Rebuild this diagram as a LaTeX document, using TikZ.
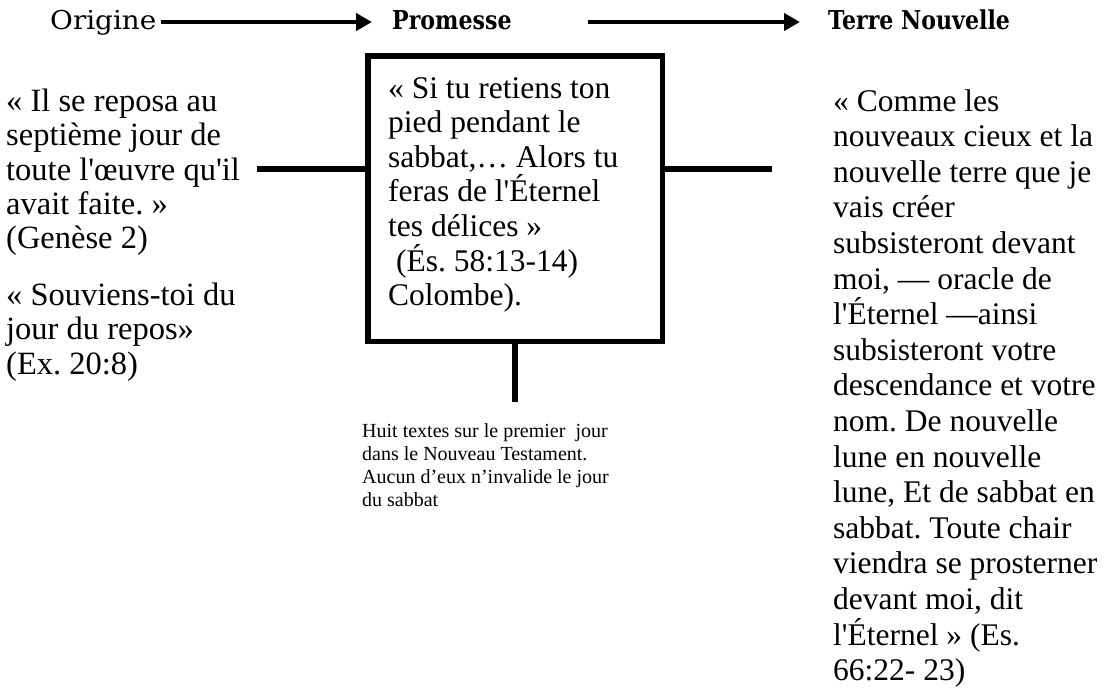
\documentclass[tikz,border=0pt]{standalone}
\usepackage{fontspec}
\setmainfont{Liberation Serif}[Ligatures=TeXOff]
\newfontfamily\hdrfont{DejaVu Serif}[FakeStretch=1.07]
\newfontfamily\hdrbold{DejaVu Serif Bold}[FakeStretch=0.85]
\usepackage{tikz}
\usetikzlibrary{arrows.meta,positioning}
\frenchspacing

\begin{document}
\begin{tikzpicture}[
  x=1pt, y=-1pt,
  font=\fontsize{31.5}{34.6}\selectfont,
  hdr/.style={inner sep=0pt, anchor=base west, text height=19pt, text depth=5pt, font=\hdrfont\fontsize{26}{28}\selectfont},
  txt/.style={inner sep=0pt, anchor=north west, align=left},
  frame/.style={draw, line width=5.5pt, minimum width=294.5pt, minimum height=285.5pt},
  stub/.style={line width=6.5pt},
  arr/.style={-{Triangle[length=16pt,width=17pt]}, line width=4pt}
]
\useasboundingbox (0,0) rectangle (1107,691);
\node[hdr] (orig) at (50,29) {Origine};
\node[hdr] (prom) at (392,29) {\hdrbold Promesse};
\node[hdr] (terre) at (828,29) {\hdrbold Terre Nouvelle};
\draw[arr, shorten <=5pt, shorten >=20pt] (orig) -- (prom);
\draw[arr, shorten <=76pt, shorten >=28pt] (prom) -- (terre);

\node[txt, font=\fontsize{32.5}{34.2}\selectfont] (gen) at (6,89) {« Il se reposa au\\septième jour de\\toute l'œuvre qu'il\\avait faite. »\\(Genèse 2)};
\node[txt, font=\fontsize{32.5}{34.2}\selectfont] (ex) at (6,283) {« Souviens-toi du\\jour du repos»\\(Ex. 20:8)};

\node[frame] (box) at (515,198.5) {};
\node[txt, below right=24pt and 23pt of box.north west] (promtxt) {« Si tu retiens ton\\pied pendant le\\sabbat,… Alors tu\\feras de l'Éternel\\tes délices »\\\hspace{0.25em}(És. 58:13-14)\\Colombe).};

\coordinate (lend) at (257,169);
\coordinate (rend) at (772,169);
\coordinate (bend) at (515,402);
\draw[stub] (lend) -- (lend -| box.west);
\draw[stub] (box.east |- rend) -- (rend);
\draw[stub] (box.south) -- (bend);

\node[txt, font=\fontsize{20}{23.3}\selectfont] (huit) at (362,423) {Huit textes sur le premier \ jour\\dans le Nouveau Testament.\\Aucun d’eux n’invalide le jour\\du sabbat};

\node[txt, font=\fontsize{31.5}{35.6}\selectfont] (nouv) at (833,89) {« Comme les\\nouveaux cieux et la\\nouvelle terre que je\\vais créer\\subsisteront devant\\moi, — oracle de\\l'Éternel —ainsi\\subsisteront votre\\descendance et votre\\nom. De nouvelle\\lune en nouvelle\\lune, Et de sabbat en\\sabbat. Toute chair\\viendra se prosterner\\devant moi, dit\\l'Éternel » (Es.\\66:22- 23)};
\end{tikzpicture}
\end{document}
